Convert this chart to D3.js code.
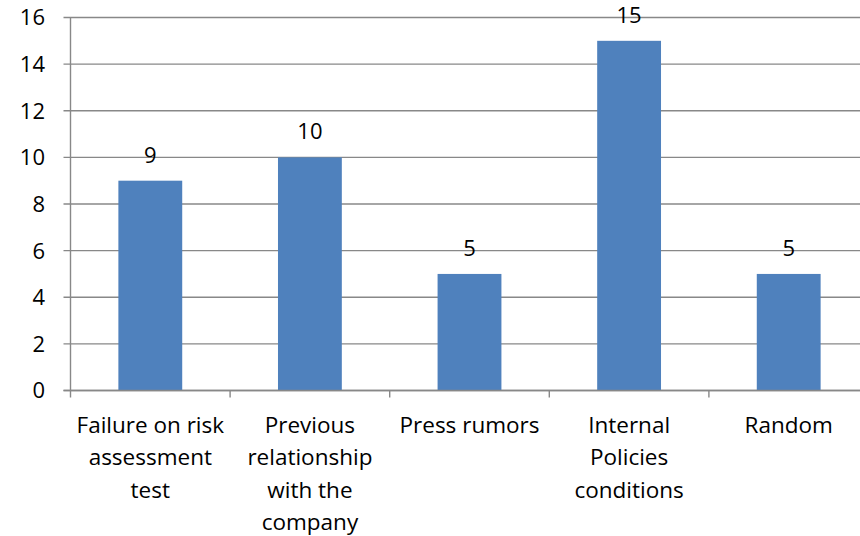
<!DOCTYPE html>
<html>
<head>
<meta charset="utf-8">
<script src="https://cdn.jsdelivr.net/npm/d3@7/dist/d3.min.js"></script>
<style>
  html, body { margin: 0; padding: 0; background: #fff; }
  svg { display: block; }
  text { font-family: "Open Sans", Lato, sans-serif; fill: #000; }
</style>
</head>
<body>
<svg id="chart" width="860" height="536"></svg>
<script>
// Reasons and counts
const categories = [
  ["Failure on risk", "assessment", "test"],
  ["Previous", "relationship", "with the", "company"],
  ["Press rumors"],
  ["Internal", "Policies", "conditions"],
  ["Random"]
];
const values = [9, 10, 5, 15, 5];
const yTicks = [0, 2, 4, 6, 8, 10, 12, 14, 16];

const svg = d3.select("#chart");
const plotLeft = 70.5, plotRight = 868.5, plotTop = 17.5, plotBottom = 390.5;
const gridColor = "#888888";
const numSize = 22, labelSize = 22.5;

const x = d3.scaleBand()
  .domain(d3.range(values.length))
  .range([plotLeft, plotRight])
  .paddingInner(0.6)
  .paddingOuter(0.3);

const y = d3.scaleLinear().domain([0, 16]).range([plotBottom, plotTop]);

// horizontal gridlines
svg.append("g")
  .selectAll("line")
  .data(yTicks)
  .join("line")
  .attr("x1", plotLeft - 7).attr("x2", plotRight)
  .attr("y1", d => y(d)).attr("y2", d => y(d))
  .attr("stroke", gridColor).attr("stroke-width", 1.4);

// y-axis line
svg.append("line")
  .attr("x1", plotLeft).attr("x2", plotLeft)
  .attr("y1", plotTop).attr("y2", plotBottom + 7)
  .attr("stroke", gridColor).attr("stroke-width", 1.4);

// y tick labels
svg.append("g")
  .selectAll("text")
  .data(yTicks)
  .join("text")
  .attr("x", 45)
  .attr("y", d => y(d))
  .attr("dy", "0.36em")
  .attr("text-anchor", "end")
  .attr("font-size", numSize)
  .text(d => d);

// category separator ticks on the x axis
const step = x.step();
svg.append("g")
  .selectAll("line")
  .data(d3.range(values.length))
  .join("line")
  .attr("x1", i => plotLeft + step * (i + 1))
  .attr("x2", i => plotLeft + step * (i + 1))
  .attr("y1", plotBottom).attr("y2", plotBottom + 7)
  .attr("stroke", gridColor).attr("stroke-width", 1.4);

// bars
svg.append("g")
  .selectAll("rect")
  .data(values)
  .join("rect")
  .attr("x", (d, i) => x(i))
  .attr("width", x.bandwidth())
  .attr("y", d => y(d))
  .attr("height", d => plotBottom - y(d))
  .attr("fill", "#4F81BD");

// x axis baseline drawn above bars
svg.append("line")
  .attr("x1", plotLeft - 7).attr("x2", plotRight)
  .attr("y1", plotBottom).attr("y2", plotBottom)
  .attr("stroke", gridColor).attr("stroke-width", 1.4);

// value labels
svg.append("g")
  .selectAll("text")
  .data(values)
  .join("text")
  .attr("x", (d, i) => x(i) + x.bandwidth() / 2)
  .attr("y", d => y(d) - 18)
  .attr("text-anchor", "middle")
  .attr("font-size", numSize)
  .text(d => d);

// category labels (wrapped lines)
const cat = svg.append("g")
  .selectAll("text")
  .data(categories)
  .join("text")
  .attr("text-anchor", "middle")
  .attr("font-size", labelSize)
  .attr("transform", (d, i) => `translate(${x(i) + x.bandwidth() / 2},432.5)`);
cat.selectAll("tspan")
  .data(d => d)
  .join("tspan")
  .attr("x", 0)
  .attr("y", (d, j) => j * 32.5)
  .text(d => d);
</script>
</body>
</html>
